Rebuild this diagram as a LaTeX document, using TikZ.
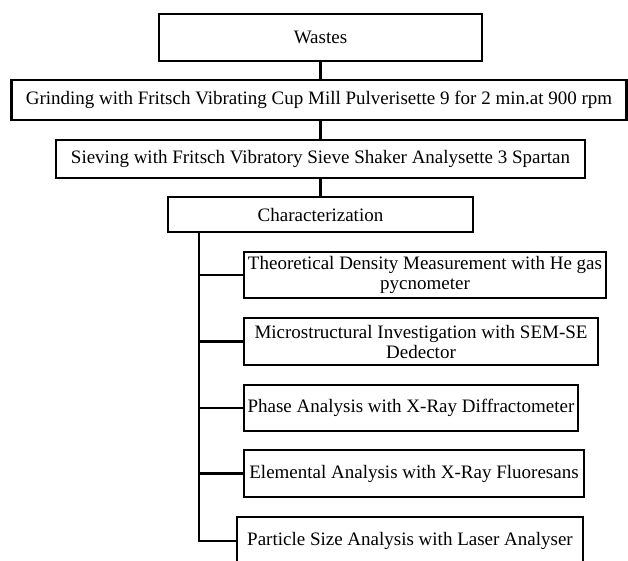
\documentclass[tikz,border=0pt]{standalone}
\usepackage{fontspec}
\setmainfont{Liberation Serif}
\begin{document}
\begin{tikzpicture}[x=1pt,y=-1pt,
  box/.style={draw, line width=2.5pt, inner sep=0pt, align=center,
    font=\fontsize{19}{20}\selectfont, anchor=center},
  conn/.style={line width=2.5pt}]
\useasboundingbox (0,0) rectangle (628,560);
\node[box, minimum width=323pt, minimum height=47pt] (wastes) at (320.5,37.5) {Wastes};
\node[box, minimum width=615pt, minimum height=40pt] (grind) at (319,100) {Grinding with Fritsch Vibrating Cup Mill Pulverisette 9 for 2 min.at 900 rpm};
\node[box, minimum width=529pt, minimum height=38pt] (sieve) at (320.5,159) {Sieving with Fritsch Vibratory Sieve Shaker Analysette 3 Spartan};
\node[box, minimum width=305pt, minimum height=35pt] (char) at (320.5,214.5) {Characterization};
\node[box, minimum width=362pt, minimum height=46pt] (theo) at (425,275) {Theoretical Density Measurement with He gas\\pycnometer};
\node[box, minimum width=354pt, minimum height=47pt] (micro) at (421,341.5) {Microstructural Investigation with SEM-SE\\Dedector};
\node[box, minimum width=334pt, minimum height=46pt] (phase) at (411,408) {Phase Analysis with X-Ray Diffractometer};
\node[box, minimum width=340pt, minimum height=47pt] (elem) at (414,473.5) {Elemental Analysis with X-Ray Fluoresans};
\node[box, minimum width=346pt, minimum height=48pt] (part) at (410,541) {Particle Size Analysis with Laser Analyser};
\draw[conn] (wastes.south) -- (grind.north -| wastes.south);
\draw[conn] (grind.south -| wastes.south) -- (sieve.north -| wastes.south);
\draw[conn] (sieve.south -| wastes.south) -- (char.north -| wastes.south);
\coordinate (trunk) at (199,232);
\draw[conn] (trunk) |- (part.west);
\foreach \n in {theo,micro,phase,elem}
  \draw[conn] (trunk |- \n.west) -- (\n.west);
\end{tikzpicture}
\end{document}
